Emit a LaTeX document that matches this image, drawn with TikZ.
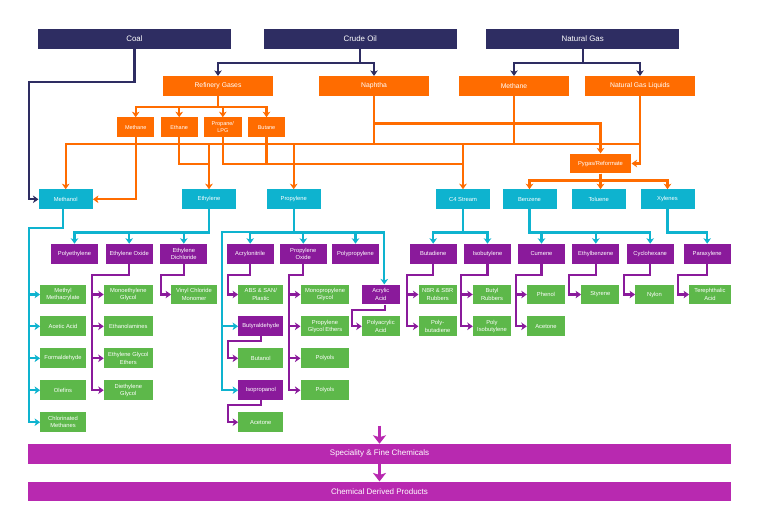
\documentclass[tikz,border=0pt]{standalone}
\usepackage{fontspec}
\setmainfont{Liberation Sans}
\usetikzlibrary{arrows.meta}
\definecolor{navyc}{HTML}{2E2D62}
\definecolor{orangec}{HTML}{FF6C00}
\definecolor{cyanc}{HTML}{0EB3CF}
\definecolor{purplec}{HTML}{8A1A9B}
\definecolor{greenc}{HTML}{5DB84A}
\definecolor{magentac}{HTML}{B829B0}
\tikzset{
    basebox/.style={inner sep=0pt,text=white,align=center,minimum height=19.7pt},
    sourcebox/.style={basebox,fill=navyc,minimum width=193pt,font=\fontsize{7.9}{9}\selectfont},
    feedbox/.style={basebox,fill=orangec,minimum width=109.5pt,font=\fontsize{6.8}{8}\selectfont},
    gasbox/.style={basebox,fill=orangec,font=\fontsize{5.5}{7.3}\selectfont},
    basicbox/.style={basebox,fill=cyanc,minimum width=54pt,font=\fontsize{5.8}{7.3}\selectfont},
    interbox/.style={basebox,fill=purplec,font=\fontsize{5.8}{7.3}\selectfont},
    endbox/.style={basebox,fill=greenc,font=\fontsize{5.8}{7.3}\selectfont},
    barbox/.style={basebox,fill=magentac,minimum width=703pt,font=\fontsize{8}{9}\selectfont},
    tipline/.style={line width=#1,-{Stealth[length=5.5pt,width=7.5pt,inset=1.5pt]}},
    navyline/.style={tipline=2.3pt,draw=navyc},
    orangeline/.style={tipline=2.3pt,draw=orangec},
    cyanline/.style={tipline=2.3pt,draw=cyanc},
    purpleline/.style={tipline=2.3pt,draw=purplec},
    barline/.style={draw=magentac,line width=3.4pt,-{Stealth[length=8.5pt,width=13pt,inset=2pt]}}
}
\begin{document}
\begin{tikzpicture}[x=1pt,y=-1pt]
    \useasboundingbox (0,0) rectangle (760,506);
    % Draw the raw material boxes
    \foreach \name/\x/\txt in {coal/134.5/Coal,crude/360.3/Crude Oil,gas/582.7/Natural Gas}{
        \node[sourcebox] (\name) at (\x,39) {\txt};
    }
    % Draw the first cut boxes
    \foreach \name/\x/\txt in {refinery/218/Refinery Gases,naphtha/374/Naphtha,methanegas/514/Methane,ngl/640/Natural Gas Liquids}{
        \node[feedbox] (\name) at (\x,86) {\txt};
    }
    \foreach \name/\x/\w/\txt in {methanegen/135.7/36.7/Methane,ethane/179.2/36.7/Ethane,propane/222.8/37.7/{Propane/\\LPG},butane/266.5/36.7/Butane}{
        \node[gasbox,minimum width=\w pt] (\name) at (\x,127.3) {\txt};
    }
    \node[gasbox,minimum width=61.6pt,font=\fontsize{5.8}{7.3}\selectfont] (pygas) at (600.5,163.5) {Pygas/Reformate};
    % Draw the basic chemicals
    \foreach \name/\x/\txt in {methanol/65.7/Methanol,ethylene/209/Ethylene,propylene/293.7/Propylene,cfour/463/C4 Stream,benzene/529.5/Benzene,toluene/598.7/Toluene,xylenes/667.5/Xylenes}{
        \node[basicbox] (\name) at (\x,199.3) {\txt};
    }
    % Draw the intermediates in one row
    \foreach \name/\x/\txt in {polyethylene/74.5/Polyethylene,ethyleneoxide/129.2/Ethylene Oxide,dichloride/183.8/Ethylene\\Dichloride,acrylonitrile/250.2/Acrylonitrile,propyleneoxide/303.3/Propylene\\Oxide,polypropylene/355.5/Polypropylene,butadiene/433.2/Butadiene,isobutylene/487.5/Isobutylene,cumene/541.5/Cumene,ethylbenzene/595.8/Ethylbenzene,cyclohexane/650.2/Cyclohexane,paraxylene/707.2/Paraxylene}{
        \node[interbox,minimum width=47pt] (\name) at (\x,253.8) {\txt};
    }
    \node[interbox,minimum width=37.7pt] (acrylic) at (380.8,294.5) {Acrylic\\Acid};
    \node[interbox,minimum width=45pt] (butyraldehyde) at (260.8,326.3) {Butyraldehyde};
    \node[interbox,minimum width=45pt] (isopropanol) at (260.8,390.2) {Isopropanol};
    % Draw the end products
    \foreach \name/\x/\y/\w/\txt in {
        methyl/63/294.5/45.4/Methyl\\Methacrylate,
        acetic/63/326.3/45.4/Acetic Acid,
        formaldehyde/63/358.3/45.4/Formaldehyde,
        olefins/63/390.2/45.4/Olefins,
        chlorinated/63/422.2/45.4/Chlorinated\\Methanes,
        monoethylene/128.3/294.5/48.7/Monoethylene\\Glycol,
        ethanolamines/128.3/326.3/48.7/Ethanolamines,
        glycolethers/128.3/358.3/48.7/Ethylene Glycol\\Ethers,
        diethylene/128.3/390.2/48.7/Diethylene\\Glycol,
        vinyl/194/294.5/45.4/Vinyl Chloride\\Monomer,
        abs/260.8/294.5/45/{ABS \& SAN/\\Plastic},
        butanol/260.8/358.3/45/Butanol,
        acetoneiso/260.8/422.2/45/Acetone,
        monopropylene/325/294.5/48.7/Monopropylene\\Glycol,
        propyleneethers/325/326.3/48.7/Propylene\\Glycol Ethers,
        polyolsa/325/358.3/48.7/Polyols,
        polyolsb/325/390.2/48.7/Polyols,
        polyacrylic/380.8/326.3/37.7/Polyacrylic\\Acid,
        nbr/437.7/294.5/38/NBR \& SBR\\Rubbers,
        polybutadiene/437.7/326.3/38/Poly-\\butadiene,
        butyl/492/294.5/38/Butyl\\Rubbers,
        polyisobutylene/492/326.3/38/Poly\\Isobutylene,
        phenol/546/294.5/38/Phenol,
        acetonecumene/546/326.3/38/Acetone,
        styrene/600.3/294.5/38/Styrene,
        nylon/654.5/294.5/38.4/Nylon,
        terephthalic/710/294.5/41.4/Terephthalic\\Acid}{
        \node[endbox,minimum width=\w pt] (\name) at (\x,\y) {\txt};
    }
    % Draw the two bars
    \node[barbox] (speciality) at (379.5,453.8) {Speciality \& Fine Chemicals};
    \node[barbox] (derived) at (379.5,491.5) {Chemical Derived Products};
    % Arrows from the raw materials
    \draw[navyline] (coal.south) |- (28.7,82) |- (methanol.west);
    \foreach \a/\b in {crude/refinery,crude/naphtha,gas/methanegas,gas/ngl}{
        \draw[navyline] (\a.south) -- ++(0,13.6) -| (\b.north);
    }
    % Orange connections
    \foreach \b in {methanegen,ethane,propane,butane}{
        \draw[orangeline] (refinery.south) -- ++(0,10.7) -| (\b.north);
    }
    \coordinate (busa) at (65.7,144);
    \coordinate (busb) at (65.7,164);
    \draw[orangeline] (ngl.south) |- (busa) -- (methanol.north);
    \draw[orangeline] (ngl.south) |- (pygas.east);
    \draw[orangeline,-] (naphtha.south) -- (naphtha.south |- busa);
    \draw[orangeline,-] (methanegas.south) -- (methanegas.south |- busa);
    \draw[orangeline] (naphtha.south) -- ++(0,27.3) -| (pygas.north);
    \draw[orangeline] (methanegen.south) |- (methanol.east);
    \foreach \b in {ethylene,propylene,cfour}{
        \draw[orangeline] (busa -| \b.north) -- (\b.north);
    }
    \draw[orangeline,-] (ethane.south) |- (busb -| ethylene.north);
    \draw[orangeline,-] (propane.south) |- (busb -| cfour.north);
    \draw[orangeline,-] (butane.south) -- (butane.south |- busb);
    \foreach \b in {benzene,xylenes}{
        \draw[orangeline] (pygas.south) -- ++(0,6.8) -| (\b.north);
    }
    \draw[orangeline] (pygas.south) -- (pygas.south |- toluene.north);
    % Cyan connections
    \foreach \b in {methyl,acetic,formaldehyde,olefins,chlorinated}{
        \draw[cyanline] ([xshift=-2.7pt]methanol.south) |- (28.7,228.3) |- (\b.west);
    }
    \foreach \a/\b in {ethylene/polyethylene,ethylene/ethyleneoxide,ethylene/dichloride,propylene/acrylonitrile,propylene/propyleneoxide,propylene/polypropylene,cfour/butadiene,cfour/isobutylene,benzene/cumene,benzene/ethylbenzene,benzene/cyclohexane,xylenes/paraxylene}{
        \draw[cyanline] (\a.south) -- ++(0,23) -| (\b.north);
    }
    \draw[cyanline] (propylene.south) -- ++(0,23) -| ([xshift=3.5pt]acrylic.north);
    \foreach \b in {butyraldehyde,isopropanol}{
        \draw[cyanline] (propylene.south) |- (221.7,232.3) |- (\b.west);
    }
    % Purple connections
    \foreach \a/\bx/\b in {ethyleneoxide/91.7/monoethylene,ethyleneoxide/91.7/ethanolamines,ethyleneoxide/91.7/glycolethers,ethyleneoxide/91.7/diethylene,dichloride/161.3/vinyl,acrylonitrile/228/abs,propyleneoxide/288.7/monopropylene,propyleneoxide/288.7/propyleneethers,propyleneoxide/288.7/polyolsa,propyleneoxide/288.7/polyolsb,butadiene/407/nbr,butadiene/407/polybutadiene,isobutylene/461.3/butyl,isobutylene/461.3/polyisobutylene,cumene/515.7/phenol,cumene/515.7/acetonecumene,ethylbenzene/569.3/styrene,cyclohexane/623.7/nylon,paraxylene/677.7/terephthalic}{
        \draw[purpleline] (\a.south) |- (\bx,275.3) |- (\b.west);
    }
    \draw[purpleline] ([xshift=4.2pt]acrylic.south) |- (352.3,310) |- (polyacrylic.west);
    \draw[purpleline] (butyraldehyde.south) |- (228,340.7) |- (butanol.west);
    \draw[purpleline] (isopropanol.south) |- (228,405) |- (acetoneiso.west);
    % Big arrows down to the bars
    \coordinate (barstart) at (379.5,425.7);
    \draw[barline] (barstart) -- (speciality.north);
    \draw[barline] (speciality.south) -- (derived.north);
\end{tikzpicture}
\end{document}
